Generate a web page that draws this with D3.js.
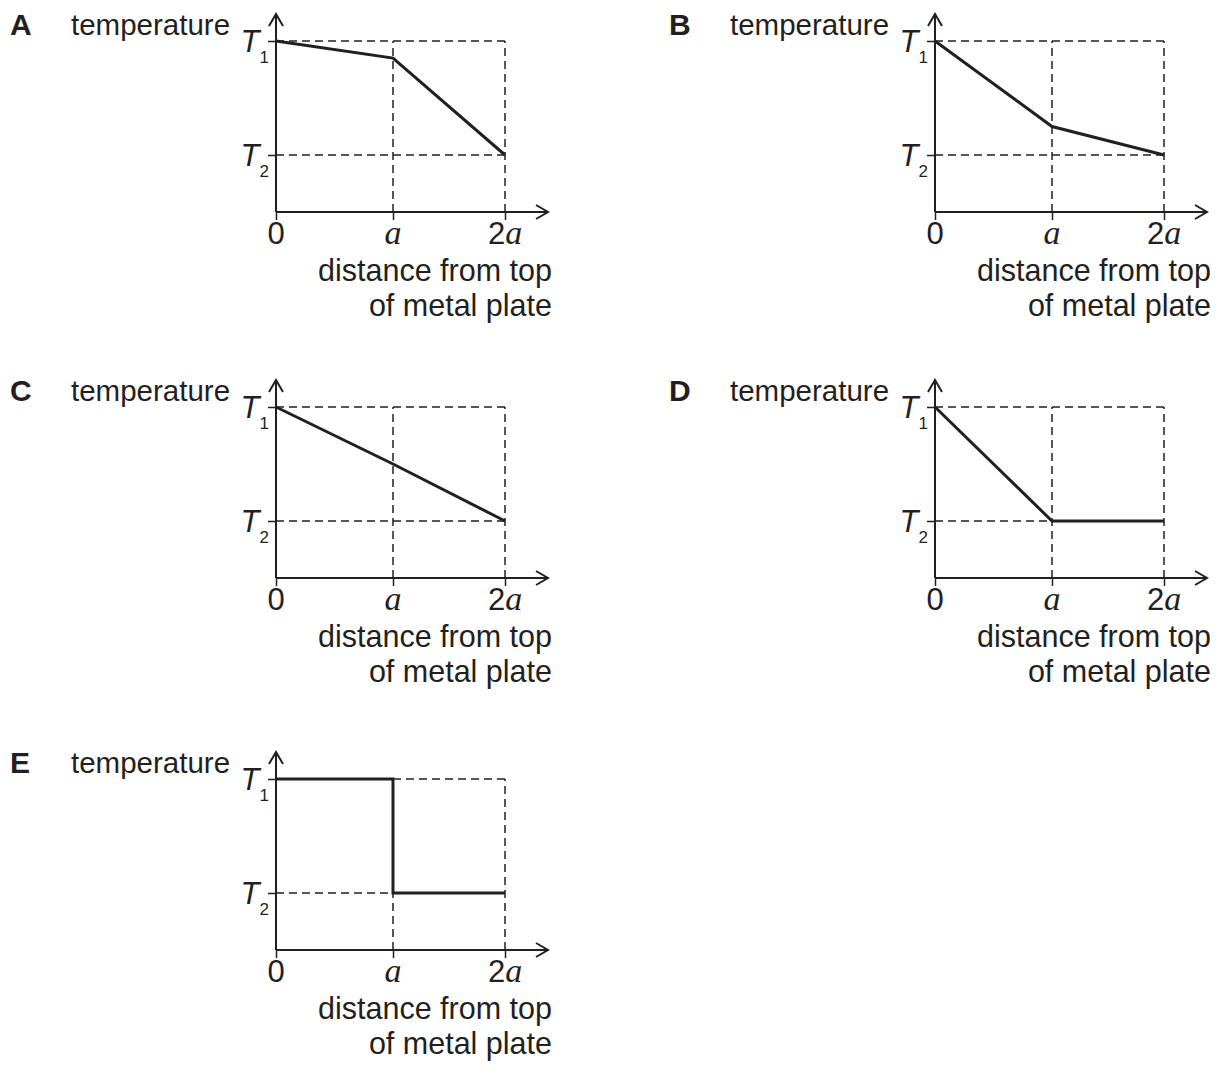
<!DOCTYPE html>
<html>
<head>
<meta charset="utf-8">
<script src="https://cdn.jsdelivr.net/npm/d3@7"></script>
<style>
  body { margin: 0; background: #fff; }
  text { font-family: "Liberation Sans", Arial, sans-serif; fill: #231f20; }
</style>
</head>
<body>
<div id="chart"></div>
<script>
// distance from top of plate, in units of a
const distance = [0, 1, 2];
const distanceE = [0, 1, 1, 2];

// temperature, scaled so T2 = 0 and T1 = 1
const tempA = [1, 0.85, 0];
const tempB = [1, 0.25, 0];
const tempC = [1, 0.5, 0];
const tempD = [1, 0, 0];
const tempE = [1, 1, 0, 0];

const panelLetters = ['A', 'B', 'C', 'D', 'E'];
const xTickValues = [0, 1, 2];
const xTickLabels = [['0', ''], ['', 'a'], ['2', 'a']];
const yTickValues = [1, 0];
const yTickLabels = [['T', '1'], ['T', '2']];
const yTitle = 'temperature';
const xTitle = ['distance from top', 'of metal plate'];

const panels = [
  { letter: panelLetters[0], xs: distance, ts: tempA },
  { letter: panelLetters[1], xs: distance, ts: tempB },
  { letter: panelLetters[2], xs: distance, ts: tempC },
  { letter: panelLetters[3], xs: distance, ts: tempD },
  { letter: panelLetters[4], xs: distanceE, ts: tempE }
];

// origin of each panel (where the two axes meet)
const colX = [276, 935];
const rowY = [212, 578, 950];
const ink = '#231f20';

const svg = d3.select('#chart')
  .append('svg')
  .attr('width', 1222)
  .attr('height', 1084)
  .style('background-color', '#ffffff');

// shared scales, in panel-local coordinates
const x = d3.scaleLinear().domain([0, 1, 2]).range([0, 117, 229]);
const y = d3.scaleLinear().domain([-0.5, 1]).range([0, -171]);

const line = d3.line()
  .x(d => x(d[0]))
  .y(d => y(d[1]));

panels.forEach((p, i) => {
  const ox = colX[i % 2];
  const oy = rowY[Math.floor(i / 2)];
  const g = svg.append('g').attr('transform', `translate(${ox},${oy})`);

  // dashed guide lines
  yTickValues.forEach(v => {
    g.append('line')
      .attr('x1', 0).attr('x2', x(2))
      .attr('y1', y(v)).attr('y2', y(v))
      .attr('stroke', ink).attr('stroke-width', 1.5)
      .attr('stroke-dasharray', '8,5');
  });
  [1, 2].forEach(v => {
    g.append('line')
      .attr('x1', x(v)).attr('x2', x(v))
      .attr('y1', y(-0.5)).attr('y2', y(1))
      .attr('stroke', ink).attr('stroke-width', 1.5)
      .attr('stroke-dasharray', '8,5');
  });

  // axes with ticks
  const xAxis = g.append('g')
    .call(d3.axisBottom(x).tickValues(xTickValues).tickSize(8).tickSizeOuter(0).tickFormat(''));
  xAxis.select('.domain').remove();
  xAxis.selectAll('.tick line').attr('stroke', ink).attr('stroke-width', 1.5);

  const yAxis = g.append('g')
    .call(d3.axisLeft(y).tickValues(yTickValues).tickSize(8).tickSizeOuter(0).tickFormat(''));
  yAxis.select('.domain').remove();
  yAxis.selectAll('.tick line').attr('stroke', ink).attr('stroke-width', 1.5);

  // axis lines with open arrowheads
  const yTop = y(1) - 27;
  const xEnd = 272;
  g.append('path')
    .attr('d', `M0,${y(-0.5)}V${yTop}M-7,${yTop + 12}L0,${yTop}L7,${yTop + 12}`)
    .attr('fill', 'none').attr('stroke', ink).attr('stroke-width', 2);
  g.append('path')
    .attr('d', `M0,${y(-0.5)}H${xEnd}M${xEnd - 12},${y(-0.5) - 7}L${xEnd},${y(-0.5)}L${xEnd - 12},${y(-0.5) + 7}`)
    .attr('fill', 'none').attr('stroke', ink).attr('stroke-width', 2);

  // temperature profile
  g.append('path')
    .datum(p.xs.map((d, j) => [d, p.ts[j]]))
    .attr('d', line)
    .attr('fill', 'none')
    .attr('stroke', ink)
    .attr('stroke-width', 3)
    .attr('stroke-linejoin', 'miter');

  // panel letter and y title
  g.append('text')
    .attr('x', -266).attr('y', -177)
    .attr('font-size', 30).attr('font-weight', 'bold')
    .text(p.letter);
  g.append('text')
    .attr('x', -205).attr('y', -177)
    .attr('font-size', 29.5)
    .text(yTitle);

  // T1, T2 labels (letter with subscript in one text)
  yTickValues.forEach((v, j) => {
    const t = g.append('text')
      .attr('x', -7).attr('y', y(v) + 11)
      .attr('text-anchor', 'end');
    t.append('tspan')
      .attr('font-size', 31).attr('font-style', 'italic')
      .text(yTickLabels[j][0]);
    t.append('tspan')
      .attr('font-size', 17)
      .attr('dy', 11)
      .text(yTickLabels[j][1]);
  });

  // 0, a, 2a labels
  xTickValues.forEach((v, j) => {
    const t = g.append('text')
      .attr('x', x(v)).attr('y', y(-0.5) + 32)
      .attr('text-anchor', 'middle')
      .attr('font-size', 31);
    t.append('tspan').text(xTickLabels[j][0]);
    t.append('tspan')
      .style('font-family', '"Liberation Serif", "Times New Roman", serif')
      .attr('font-style', 'italic')
      .attr('font-size', 34)
      .text(xTickLabels[j][1]);
  });

  // x title
  xTitle.forEach((s, j) => {
    g.append('text')
      .attr('x', 276).attr('y', y(-0.5) + 69 + j * 35)
      .attr('text-anchor', 'end')
      .attr('font-size', 30.5)
      .text(s);
  });
});
</script>
</body>
</html>
